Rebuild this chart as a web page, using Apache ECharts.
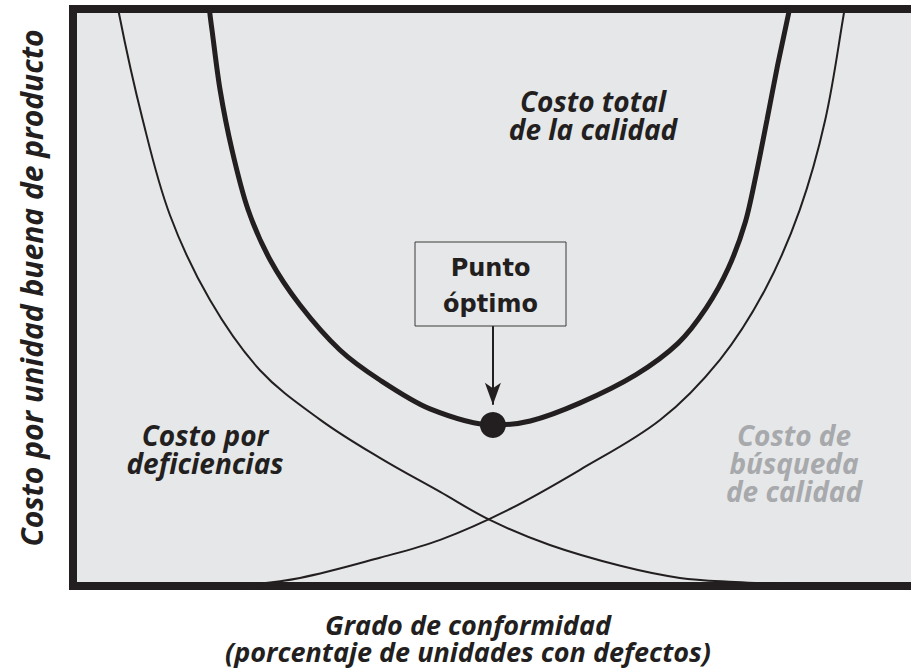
<!DOCTYPE html>
<html>
<head>
<meta charset="utf-8">
<script src="https://cdn.jsdelivr.net/npm/echarts@6/dist/echarts.min.js"></script>
<style>
  html, body { margin: 0; padding: 0; background: #fff; }
  #main { width: 911px; height: 670px; }
</style>
</head>
<body>
<div id="main"></div>
<script>
// curves in abstract units: x = grado de conformidad (0-100), y = costo (0-100)
var costoTotal = [
    [15.9, 103.3], [16.1, 99.3], [16.35, 96.4], [17.3, 86.0], [18.7, 75.6],
    [20.6, 65.2], [23.2, 56.5], [26.7, 48.7], [31.4, 40.9], [36.1, 35.7],
    [42.0, 30.7], [49.4, 27.9], [53.8, 28.6], [59.6, 31.7], [66.2, 36.6],
    [71.2, 42.1], [74.5, 48.2], [77.1, 55.1], [79.1, 63.1], [80.35, 71.2],
    [81.65, 80.8], [82.9, 90.3], [84.2, 99.3], [84.7, 103.3]
];
var costoDeficiencias = [
    [5.2, 103.3], [5.4, 99.3], [8.2, 80.8], [11.4, 64.3], [16.1, 49.6],
    [22.0, 37.4], [29.1, 28.8], [36.1, 22.2], [43.2, 16.3], [49.1, 11.4],
    [56.1, 7.1], [64.4, 3.5], [71.4, 1.4], [77.9, 0.7], [85.5, 0.2]
];
var costoBusqueda = [
    [20.2, 0.2], [26.7, 1.4], [36.1, 4.9], [43.2, 8.0], [51.2, 13.2],
    [59.6, 20.1], [69.1, 28.8], [76.1, 39.2], [81.4, 51.3], [85.5, 65.2],
    [88.5, 80.8], [90.7, 99.3], [91.1, 103.3]
];
var puntoOptimo = [49.4, 27.9];
var flecha = [[49.4, 45.1], [49.4, 31.4]];

var negro = '#231f20';
var gris = '#a7a9ac';
var fondo = '#e6e7e8';
var fuente = '"Open Sans", "DejaVu Sans", sans-serif';

var myChart = echarts.init(document.getElementById('main'), null, {renderer: 'svg'});

function rotulo(x, y, text, color) {
    return {
        type: 'text',
        x: x,
        y: y,
        z: 10,
        style: {
            text: text,
            fill: color,
            font: 'italic bold 28px ' + fuente,
            textAlign: 'center',
            textVerticalAlign: 'top',
            lineHeight: 28
        }
    };
}

var option = {
    animation: false,
    grid: {
        left: 73,
        top: 9,
        width: 850,
        height: 577,
        outerBoundsMode: 'none',
        show: true,
        backgroundColor: fondo,
        borderColor: negro,
        borderWidth: 8
    },
    xAxis: {
        type: 'value',
        min: 0,
        max: 100,
        axisLine: {show: false},
        axisTick: {show: false},
        axisLabel: {show: false},
        splitLine: {show: false}
    },
    yAxis: {
        type: 'value',
        min: 0,
        max: 100,
        axisLine: {show: false},
        axisTick: {show: false},
        axisLabel: {show: false},
        splitLine: {show: false}
    },
    series: [
        {
            name: 'Costo por deficiencias',
            type: 'line',
            smooth: 0.35,
            showSymbol: false,
            data: costoDeficiencias,
            lineStyle: {color: negro, width: 2}
        },
        {
            name: 'Costo de búsqueda de calidad',
            type: 'line',
            smooth: 0.35,
            showSymbol: false,
            data: costoBusqueda,
            lineStyle: {color: negro, width: 2}
        },
        {
            name: 'Costo total de la calidad',
            type: 'line',
            smooth: 0.3,
            showSymbol: false,
            data: costoTotal,
            lineStyle: {color: negro, width: 5}
        },
        {
            name: 'Punto óptimo',
            type: 'scatter',
            symbolSize: 26,
            data: [puntoOptimo],
            itemStyle: {color: negro, opacity: 1},
            z: 5,
            markLine: {
                silent: true,
                symbol: ['none', 'arrow'],
                symbolSize: [12, 22],
                label: {show: false},
                lineStyle: {color: negro, width: 2, type: 'solid', opacity: 1},
                data: [[{coord: flecha[0]}, {coord: flecha[1]}]]
            }
        }
    ],
    graphic: [
        {
            type: 'rect',
            z: 10,
            shape: {x: 415, y: 242, width: 151, height: 84},
            style: {fill: fondo, stroke: '#3a3a3a', lineWidth: 1}
        },
        {
            type: 'text',
            x: 490.5,
            y: 250,
            z: 11,
            style: {
                text: 'Punto\nóptimo',
                fill: negro,
                font: 'bold 24px "DejaVu Sans", sans-serif',
                textAlign: 'center',
                textVerticalAlign: 'top',
                lineHeight: 36
            }
        },
        rotulo(593, 87, 'Costo total\nde la calidad', negro),
        rotulo(205, 421, 'Costo por\ndeficiencias', negro),
        rotulo(794, 421, 'Costo de\nbúsqueda\nde calidad', gris),
        {
            type: 'text',
            x: 468,
            y: 611,
            style: {
                text: 'Grado de conformidad\n(porcentaje de unidades con defectos)',
                fill: negro,
                font: 'italic bold 27px ' + fuente,
                textAlign: 'center',
                textVerticalAlign: 'top',
                lineHeight: 27
            }
        },
        {
            type: 'text',
            x: 31,
            y: 288,
            rotation: Math.PI / 2,
            style: {
                text: 'Costo por unidad buena de producto',
                fill: negro,
                font: 'italic bold 30px ' + fuente,
                textAlign: 'center',
                textVerticalAlign: 'middle'
            }
        }
    ]
};
myChart.setOption(option);
</script>
</body>
</html>
